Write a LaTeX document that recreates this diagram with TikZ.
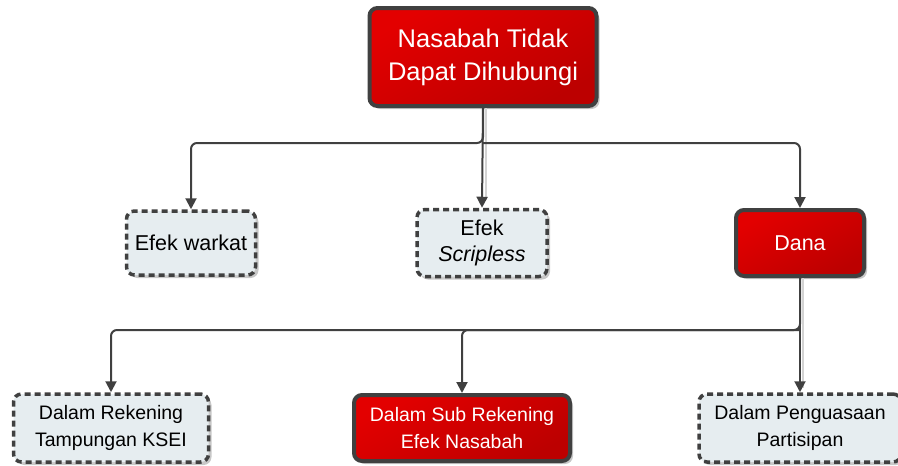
\documentclass[tikz,border=0pt]{standalone}
\usepackage{fontspec}
\setmainfont{Liberation Sans}
\usetikzlibrary{shadows,arrows.meta}
\definecolor{redA}{HTML}{E30000}
\definecolor{redB}{HTML}{BC0000}
\definecolor{edge}{HTML}{404040}
\definecolor{paleFill}{HTML}{E6EDF0}
\definecolor{shade}{HTML}{C8C8C8}
\tikzset{
  x=1pt, y=1pt,
  redbox/.style={draw=edge, line width=4pt, rounded corners=8pt,
    top color=redA, bottom color=redB, shading angle=30,
    text=white, align=center, inner sep=0pt,
    drop shadow={shadow xshift=3pt, shadow yshift=-3pt, fill=shade, opacity=1}},
  palebox/.style={draw=edge, line width=3.5pt, dash pattern=on 6pt off 4pt,
    rounded corners=8pt, fill=paleFill, text=black, align=center, inner sep=0pt,
    drop shadow={shadow xshift=3pt, shadow yshift=-3pt, fill=shade, opacity=1}},
  conn/.style={draw=edge, line width=2pt, rounded corners=6pt,
    -{Triangle[length=11pt,width=11pt]}},
  connshadow/.style={draw=shade!80, line width=2pt},
  bigtext/.style={font=\fontsize{25.5}{33}\selectfont},
  midtext/.style={font=\fontsize{21.5}{26}\selectfont},
  smalltext/.style={font=\fontsize{19.5}{27}\selectfont},
}
\begin{document}
\begin{tikzpicture}
\useasboundingbox (0,0) rectangle (898,-466);

% nodes
\node[redbox, bigtext, minimum width=227pt, minimum height=98pt] (top) at (483,-57)
  {Nasabah Tidak\\Dapat Dihubungi};

\node[palebox, midtext, minimum width=129pt, minimum height=64pt] (warkat) at (191,-243) {Efek warkat};
\node[palebox, midtext, minimum width=130pt, minimum height=67pt] (scrip) at (482,-243) {Efek\\\textit{Scripless}};
\node[redbox, midtext, minimum width=128pt, minimum height=66pt] (dana) at (800,-243) {Dana};

\node[palebox, smalltext, minimum width=195pt, minimum height=68pt] (ksei) at (111,-428)
  {Dalam Rekening\\Tampungan KSEI};
\node[redbox, smalltext, minimum width=216pt, minimum height=66pt] (sub) at (462,-428)
  {Dalam Sub Rekening\\Efek Nasabah};
\node[palebox, smalltext, minimum width=202pt, minimum height=68pt] (part) at (800,-428)
  {Dalam Penguasaan\\Partisipan};

% connector shadows
\draw[connshadow] ([xshift=3pt]dana.south) -- ++(0,-110);
\draw[connshadow] ([xshift=3pt]top.south) -- ++(0,-92);

% connectors
\coordinate (hub1) at (483,-143);
\coordinate (hub2) at (800,-330);
\draw[conn] (top.south) -- (hub1) -| (warkat.north);
\draw[conn] (hub1) -| (dana.north);
\draw[conn] (top.south) -- (scrip.north);
\draw[conn] (dana.south) -- (hub2) -| (ksei.north);
\draw[conn] (hub2) -| (sub.north);
\draw[conn] (dana.south) -- (part.north);
\end{tikzpicture}
\end{document}
